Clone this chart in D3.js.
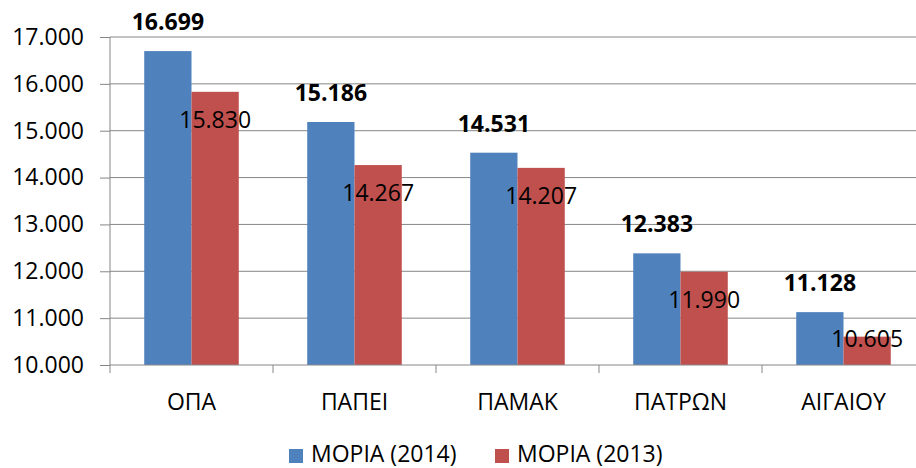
<!DOCTYPE html>
<html>
<head>
<meta charset="utf-8">
<script src="https://cdn.jsdelivr.net/npm/d3@7"></script>
<style>
  body { margin: 0; background: #fff; }
  svg { display: block; font-family: "Open Sans", sans-serif; }
</style>
</head>
<body>
<svg id="chart" width="916" height="468"></svg>
<script>
// data
var categories = ["ΟΠΑ", "ΠΑΠΕΙ", "ΠΑΜΑΚ", "ΠΑΤΡΩΝ", "ΑΙΓΑΙΟΥ"];
var moria2014 = [16699, 15186, 14531, 12383, 11128];
var moria2013 = [15830, 14267, 14207, 11990, 10605];
var seriesNames = ["ΜΟΡΙΑ (2014)", "ΜΟΡΙΑ (2013)"];
var yTicks = [10000, 11000, 12000, 13000, 14000, 15000, 16000, 17000];

var colors = ["#4F81BD", "#C0504D"];
var gridColor = "#868686";

var svg = d3.select("#chart");
var plotLeft = 110, plotRight = 925, plotTop = 37, plotBottom = 365;

// 17000 -> "17.000"
var fmtNum = function (v) {
    var s = String(v);
    return s.slice(0, s.length - 3) + "." + s.slice(s.length - 3);
};

var x = d3.scaleBand().domain(categories).range([plotLeft, plotRight])
    .paddingInner(0.42).paddingOuter(0.21);
var step = x.step();
var xs = d3.scaleBand().domain([0, 1]).range([0, x.bandwidth()]);
var y = d3.scaleLinear().domain([10000, 17000]).range([plotBottom, plotTop]);

// gridlines
svg.append("g").selectAll("line")
    .data(yTicks.slice(1))
    .enter().append("line")
    .attr("x1", plotLeft).attr("x2", 916)
    .attr("y1", function (d) { return y(d); })
    .attr("y2", function (d) { return y(d); })
    .attr("stroke", gridColor).attr("stroke-width", 1);

// y axis
var yAxis = svg.append("g")
    .attr("transform", "translate(" + plotLeft + ",0)")
    .call(d3.axisLeft(y).tickValues(yTicks).tickSize(10).tickPadding(16).tickFormat(fmtNum));
yAxis.select(".domain").attr("stroke", gridColor).attr("d", "M0," + plotTop + "V" + (plotBottom + 8));
yAxis.selectAll(".tick line").attr("stroke", gridColor);
yAxis.selectAll(".tick text").attr("font-size", "23px").attr("fill", "#000")
    .attr("font-family", "Open Sans");

// bars
var groups = svg.append("g").selectAll("g")
    .data(categories)
    .enter().append("g")
    .attr("transform", function (d) { return "translate(" + x(d) + ",0)"; });

[moria2014, moria2013].forEach(function (vals, si) {
    groups.append("rect")
        .attr("x", xs(si))
        .attr("y", function (d, i) { return y(vals[i]); })
        .attr("width", xs.bandwidth())
        .attr("height", function (d, i) { return plotBottom - y(vals[i]); })
        .attr("fill", colors[si]);
});

// value labels
groups.append("text")
    .attr("x", xs(0) + xs.bandwidth() / 2)
    .attr("y", function (d, i) { return y(moria2014[i]) - 21; })
    .attr("text-anchor", "middle")
    .attr("font-size", "23px").attr("font-weight", "bold")
    .text(function (d, i) { return fmtNum(moria2014[i]); });

groups.append("text")
    .attr("x", xs(1) + xs.bandwidth() / 2)
    .attr("y", function (d, i) { return Math.min(y(moria2013[i]) + 36, plotBottom - 18); })
    .attr("text-anchor", "middle")
    .attr("font-size", "23px")
    .text(function (d, i) { return fmtNum(moria2013[i]); });

// x axis
svg.append("line")
    .attr("x1", plotLeft).attr("x2", 916)
    .attr("y1", plotBottom).attr("y2", plotBottom)
    .attr("stroke", gridColor);
svg.append("g").selectAll("line")
    .data(categories)
    .enter().append("line")
    .attr("x1", function (d) { return x(d) - step * 0.21 + step; })
    .attr("x2", function (d) { return x(d) - step * 0.21 + step; })
    .attr("y1", plotBottom).attr("y2", plotBottom + 8)
    .attr("stroke", gridColor);
svg.append("g").selectAll("text")
    .data(categories)
    .enter().append("text")
    .attr("x", function (d) { return x(d) + x.bandwidth() / 2; })
    .attr("y", 410)
    .attr("text-anchor", "middle")
    .attr("font-size", "23px")
    .text(function (d) { return d; });

// legend
var legendX = [289, 495];
var legend = svg.append("g").selectAll("g")
    .data(seriesNames)
    .enter().append("g")
    .attr("transform", function (d, i) { return "translate(" + legendX[i] + ",449)"; });
legend.append("rect")
    .attr("width", 14).attr("height", 14)
    .attr("fill", function (d, i) { return colors[i]; });
legend.append("text")
    .attr("x", 22).attr("y", 13)
    .attr("font-size", "23px")
    .text(function (d) { return d; });
</script>
</body>
</html>
